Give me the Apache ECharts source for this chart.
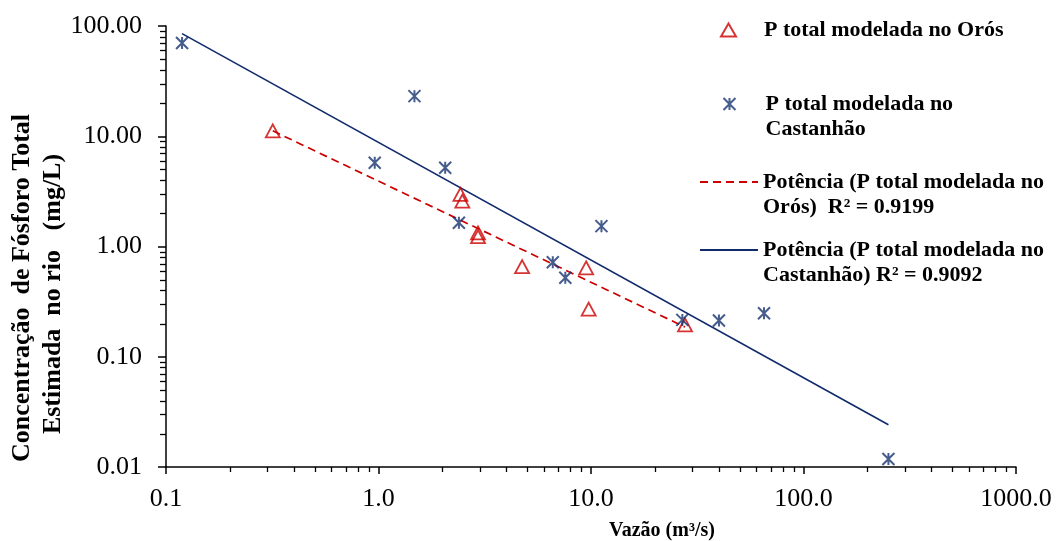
<!DOCTYPE html>
<html>
<head>
<meta charset="utf-8">
<script src="https://cdn.jsdelivr.net/npm/echarts@6/dist/echarts.min.js"></script>
<style>
  html, body { margin: 0; padding: 0; background: #fff; }
  #chart { width: 1060px; height: 541px; }
</style>
</head>
<body>
<div id="chart"></div>
<script>
// P total modelada no Orós (vazão m³/s x concentração mg/L)
var orosX = [0.318, 2.43, 2.48, 2.94, 2.94, 4.74, 9.49, 9.75, 27.7];
var orosY = [11.2, 2.97, 2.58, 1.33, 1.23, 0.656, 0.64, 0.27, 0.195];
// P total modelada no Castanhão
var castX = [0.119, 0.96, 1.476, 2.06, 2.39, 6.61, 7.57, 11.2, 26.9, 40, 65.2, 251];
var castY = [70.2, 5.74, 23.1, 5.18, 1.64, 0.72, 0.52, 1.53, 0.216, 0.213, 0.248, 0.0118];
// linhas de tendência (potência), extremos
var orosTrendX = [0.318, 27.7];
var orosTrendY = [11.2, 0.186];
var castTrendX = [0.119, 251];
var castTrendY = [85.3, 0.0242];
// marcas secundárias dos eixos log
var xMinor = [0.2, 0.3, 0.4, 0.5, 0.6, 0.7, 0.8, 0.9,
  2, 3, 4, 5, 6, 7, 8, 9,
  20, 30, 40, 50, 60, 70, 80, 90,
  200, 300, 400, 500, 600, 700, 800, 900];
var yMinor = [0.02, 0.03, 0.04, 0.05, 0.06, 0.07, 0.08, 0.09,
  0.2, 0.3, 0.4, 0.5, 0.6, 0.7, 0.8, 0.9,
  2, 3, 4, 5, 6, 7, 8, 9,
  20, 30, 40, 50, 60, 70, 80, 90];

var names = [
  "P total modelada no Orós",
  "P total modelada no Castanhão",
  "Potência (P total modelada no Orós)",
  "Potência (P total modelada no Castanhão)",
];
// linhas do texto de cada item da legenda
var legendLines = [
  ["P total modelada no Orós"],
  ["P total modelada no", "Castanhão"],
  ["Potência (P total modelada no", "Orós)  R² = 0.9199"],
  ["Potência (P total modelada no", "Castanhão) R² = 0.9092"],
];

var RED = "#cc0000";
var BLUE = "#17336f";
var LINE_BLUE = "#102a6c";
var FONT = "Liberation Serif";

function pairs(xs, ys) {
  return xs.map(function (x, i) {
    return [x, ys[i]];
  });
}

var chart = echarts.init(document.getElementById("chart"));

function minorTicks(values, horizontal) {
  return {
    type: "custom",
    silent: true,
    z: 1,
    data: values.map(function (v) {
      return horizontal ? [v, 0.01] : [0.1, v];
    }),
    renderItem: function (params, api) {
      var p = api.coord([api.value(0), api.value(1)]);
      var shape = horizontal
        ? { x1: Math.round(p[0]) + 0.5, y1: p[1], x2: Math.round(p[0]) + 0.5, y2: p[1] + 5 }
        : { x1: p[0], y1: Math.round(p[1]) + 0.5, x2: p[0] - 6, y2: Math.round(p[1]) + 0.5 };
      return { type: "line", shape: shape, style: { stroke: "#000", lineWidth: 1.3 } };
    },
  };
}

// uma legenda por item, para posicionar como no original
var legendBox = [
  { left: 720, top: 17.5, w: 15, h: 13, pad: 23, hideSymbol: false },
  { left: 721, top: 66.5, w: 12, h: 12, pad: 25, hideSymbol: false },
  { left: 699, top: 144.5, w: 58, h: 14, pad: 0, hideSymbol: true },
  { left: 699, top: 212.5, w: 58, h: 14, pad: 0, hideSymbol: true },
];
var legends = names.map(function (n, i) {
  var b = legendBox[i];
  var lines = legendLines[i].map(function (t) {
    return b.pad ? "{p|}" + t : t;
  });
  // linha vazia no início: o ícone fica alinhado com a primeira linha
  var text = lines.length > 1 ? " \n" + lines.join("\n") : lines[0];
  return {
    data: [n],
    left: b.left,
    top: b.top,
    orient: "vertical",
    padding: 0,
    itemWidth: b.w,
    itemHeight: b.h,
    selectedMode: false,
    itemStyle: b.hideSymbol ? { opacity: 0 } : {},
    formatter: function () {
      return text;
    },
    textStyle: {
      fontFamily: FONT,
      fontWeight: "bold",
      fontSize: 22,
      color: "#000",
      lineHeight: 25,
      rich: { p: { width: b.pad, lineHeight: 25 } },
    },
  };
});

var option = {
  animation: false,
  backgroundColor: "#fff",
  grid: { left: 166, right: 44, top: 26, bottom: 74 },
  legend: legends,
  xAxis: {
    type: "log",
    logBase: 10,
    min: 0.1,
    max: 1000,
    axisLine: { lineStyle: { color: "#000", width: 1.5 } },
    axisTick: { length: 7, lineStyle: { color: "#000", width: 1.5 } },
    axisLabel: {
      color: "#000",
      fontFamily: FONT,
      fontSize: 26,
      margin: 19,
      formatter: function (v) {
        return Number(v).toFixed(1);
      },
    },
    splitLine: { show: false },
  },
  yAxis: {
    type: "log",
    logBase: 10,
    min: 0.01,
    max: 100,
    axisLine: { show: true, lineStyle: { color: "#000", width: 1.5 } },
    axisTick: { show: true, length: 8, lineStyle: { color: "#000", width: 1.5 } },
    axisLabel: {
      color: "#000",
      fontFamily: FONT,
      fontSize: 26,
      margin: 24,
      formatter: function (v) {
        return Number(v).toFixed(2);
      },
    },
    splitLine: { show: false },
  },
  graphic: [
    {
      type: "text",
      x: 22,
      y: 288,
      rotation: Math.PI / 2,
      style: {
        text: "Concentração  de Fósforo Total",
        font: "bold 26px " + FONT,
        fill: "#000",
        align: "center",
        verticalAlign: "middle",
      },
    },
    {
      type: "text",
      x: 53,
      y: 294,
      rotation: Math.PI / 2,
      style: {
        text: "Estimada  no rio   (mg/L)",
        font: "bold 26px " + FONT,
        fill: "#000",
        align: "center",
        verticalAlign: "middle",
      },
    },
    {
      type: "text",
      x: 662,
      y: 531,
      style: {
        text: "Vazão (m³/s)",
        font: "bold 20px " + FONT,
        fill: "#000",
        align: "center",
        verticalAlign: "middle",
      },
    },
  ],
  series: [
    {
      name: names[3],
      type: "line",
      data: pairs(castTrendX, castTrendY),
      symbol: "none",
      silent: true,
      z: 2,
      lineStyle: { color: LINE_BLUE, width: 1.6 },
      itemStyle: { color: LINE_BLUE },
    },
    {
      name: names[2],
      type: "line",
      data: pairs(orosTrendX, orosTrendY),
      symbol: "none",
      silent: true,
      z: 2,
      lineStyle: { color: RED, width: 1.7, type: [8, 5] },
      itemStyle: { color: RED },
    },
    {
      name: names[0],
      type: "scatter",
      data: pairs(orosX, orosY),
      symbol: "triangle",
      symbolSize: [14, 13],
      z: 3,
      itemStyle: { color: "rgba(255,255,255,0)", borderColor: RED, borderWidth: 1.8 },
    },
    {
      name: names[1],
      type: "scatter",
      data: pairs(castX, castY),
      symbol: "path://M0,0L12,12M12,0L0,12M6,0L6,12",
      symbolSize: 12,
      z: 4,
      itemStyle: { color: "none", borderColor: BLUE, borderWidth: 2 },
    },
    minorTicks(xMinor, true),
    minorTicks(yMinor, false),
  ],
};

chart.setOption(option);
window.addEventListener("resize", function () {
  chart.resize();
});
</script>
</body>
</html>
